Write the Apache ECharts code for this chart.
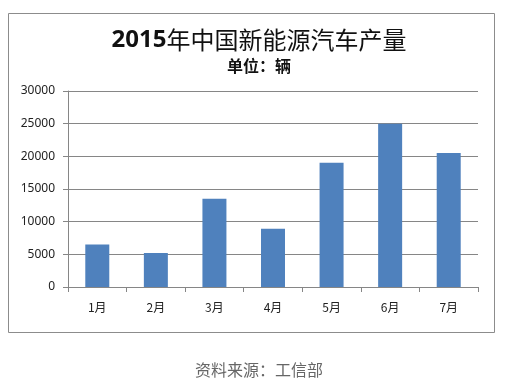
<!DOCTYPE html>
<html><head><meta charset="utf-8">
<script src="https://cdn.jsdelivr.net/npm/echarts@6/dist/echarts.min.js"></script>
<style>html,body{margin:0;padding:0;background:#fff}#c{width:518px;height:387px}</style>
</head><body><div id="c"></div>
<script>
const categories = ['1月','2月','3月','4月','5月','6月','7月'];
const production = [6500, 5200, 13500, 8900, 19000, 25000, 20500];
const yTicks = [0, 5000, 10000, 15000, 20000, 25000, 30000];
const titleYear = '2015';
const titleRest = '年中国新能源汽车产量';
const subtitleText = '单位：辆';
const sourceText = '资料来源：工信部';

const chart = echarts.init(document.getElementById('c'), null, {renderer:'canvas'});
chart.setOption({
  animation:false,
  backgroundColor:'#fff',
  title:[
    {text:'{y|'+titleYear+'}{c|'+titleRest+'}', left:'center', top:23,
     textStyle:{rich:{
       y:{fontFamily:'Noto Sans', fontWeight:'bold', fontSize:24, color:'#111'},
       c:{fontFamily:'Noto Sans CJK SC', fontWeight:'normal', fontSize:24, color:'#111'}}}},
    {text:subtitleText, left:'center', top:53, textStyle:{fontFamily:'Noto Sans CJK SC', fontWeight:'bold', fontSize:16, color:'#111'}}
  ],
  graphic:[
    {type:'rect', shape:{x:8.5,y:13.5,width:486,height:319}, style:{fill:'none', stroke:'#8c8c8c', lineWidth:1}, z:-1},
    {type:'text', left:'center', top:362, style:{text:sourceText, font:'16px "Noto Sans CJK SC"', fill:'#666'}}
  ],
  grid:{left:68, right:40, top:91, bottom:100},
  xAxis:{type:'category', data:categories,
    axisLine:{lineStyle:{color:'#868686'}},
    axisTick:{show:true, length:5, lineStyle:{color:'#868686'}},
    axisLabel:{margin:14, fontSize:12, color:'#222', fontFamily:'Noto Sans CJK SC'}},
  yAxis:{type:'value', min:yTicks[0], max:yTicks[yTicks.length-1], interval:5000,
    axisLine:{show:true, lineStyle:{color:'#868686'}},
    axisTick:{show:true, inside:false, length:5, lineStyle:{color:'#868686'}},
    splitLine:{lineStyle:{color:'#868686'}},
    axisLabel:{margin:13, fontSize:12, color:'#222', fontFamily:'Noto Sans', formatter:function(v){return String(v);}}},
  series:[{type:'bar', data:production, barWidth:24, itemStyle:{color:'#4F81BD'}}]
});
</script></body></html>
